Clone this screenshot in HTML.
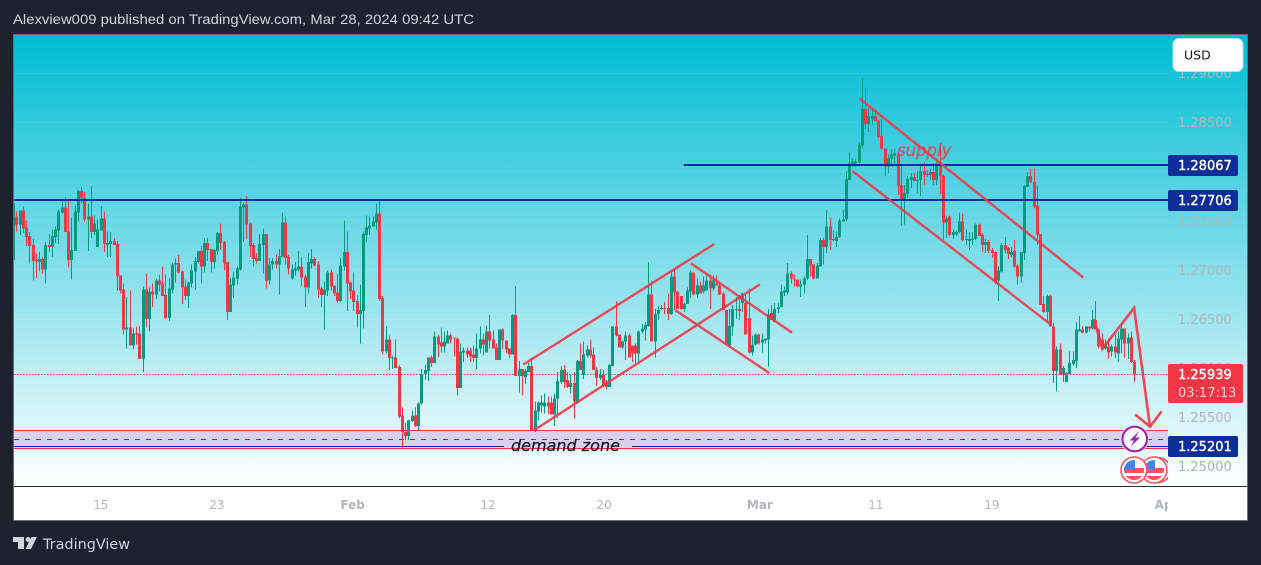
<!DOCTYPE html>
<html lang="en"><head><meta charset="utf-8"><title>GBPUSD chart</title>
<style>
html,body{margin:0;padding:0;background:#1e222d;width:1261px;height:565px;overflow:hidden}
svg{position:absolute;left:0;top:0;display:block}
text{white-space:pre}
.tick{font:13px "DejaVu Sans",sans-serif;fill:#b2b5be}
.time{font:12px "DejaVu Sans",sans-serif;fill:#b2b5be}
.pill{font:13px "DejaVu Sans",sans-serif;fill:#fff;stroke:#fff;stroke-width:.4}
</style></head>
<body>
<svg id="s" width="1261" height="565" viewBox="0 0 1261 565" xmlns="http://www.w3.org/2000/svg">
<defs>
<linearGradient id="bg" x1="0" y1="0" x2="0" y2="1"><stop offset="0" stop-color="#00bcd4"/><stop offset="1" stop-color="#ffffff"/></linearGradient>
<clipPath id="plotClip"><rect x="14" y="35" width="1154" height="451"/></clipPath>
<clipPath id="timeClip"><rect x="14" y="487" width="1154" height="33"/></clipPath>
<clipPath id="flagA"><circle cx="1134" cy="470" r="10"/></clipPath>
<clipPath id="flagB"><circle cx="1154" cy="470" r="10"/></clipPath>
<clipPath id="flagClip"><rect x="1110" y="450" width="58" height="36"/></clipPath>
</defs>
<text x="13" y="24" font-family="Liberation Sans, sans-serif" font-size="14" fill="#d1d4dc" textLength="461" lengthAdjust="spacingAndGlyphs">Alexview009 published on TradingView.com, Mar 28, 2024 09:42 UTC</text>
<rect x="13.5" y="34.5" width="1234" height="486" fill="#fff" stroke="#6a6d78"/>
<rect x="14" y="35" width="1233" height="451" fill="url(#bg)"/>
<line x1="14" x2="1247" y1="486.5" y2="486.5" stroke="#2a2e39"/>
<g id="grid"></g>
<g id="ticks"></g>
<g id="zone" clip-path="url(#plotClip)"></g>
<g id="candles" clip-path="url(#plotClip)"></g>
<g id="levels" clip-path="url(#plotClip)"></g>
<g id="trends" clip-path="url(#plotClip)"></g>
<text x="897" y="156" font-family="DejaVu Sans, sans-serif" font-style="italic" font-size="16.5" fill="#f23645" fill-opacity=".85" stroke="#f23645" stroke-opacity=".4" stroke-width=".4">supply</text>
<text x="511" y="451" font-family="DejaVu Sans, sans-serif" font-style="italic" font-size="16" fill="#131722" stroke="#131722" stroke-width=".25">demand zone</text>
<g id="pills"></g>
<rect x="1173" y="38.5" width="70" height="33" rx="6" fill="#fff" stroke="#b8e6ee"/>
<text x="1184" y="59.5" font-family="DejaVu Sans, sans-serif" font-size="12.5" fill="#131722">USD</text>
<g>
<circle cx="1134.7" cy="439" r="14" fill="#fff"/><circle cx="1134.7" cy="439" r="12.3" fill="#fff" stroke="#9c27b0" stroke-width="2.2"/>
<polygon points="1139.5,431 1129.5,440.5 1134,440.5 1130.5,447 1140,437.5 1135.5,437.5" fill="#9c27b0"/>
</g>
<g clip-path="url(#flagClip)">
<circle cx="1158" cy="470" r="12.5" fill="#fff" stroke="#f7525f" stroke-width="1.6"/>
<g>
<circle cx="1154" cy="470" r="13" fill="#fff" stroke="#f7525f" stroke-width="1.6"/>
<g clip-path="url(#flagB)"><rect x="1144" y="460" width="20" height="20" fill="#fff"/><rect x="1144" y="468" width="20" height="5" fill="#f7525f"/><rect x="1144" y="476" width="20" height="4" fill="#f7525f"/><rect x="1144" y="460" width="11" height="10" fill="#3d8be0"/></g>
</g>
<g>
<circle cx="1134" cy="470" r="13" fill="#fff" stroke="#f7525f" stroke-width="1.6"/>
<g clip-path="url(#flagA)"><rect x="1124" y="460" width="20" height="20" fill="#fff"/><rect x="1124" y="468" width="20" height="5" fill="#f7525f"/><rect x="1124" y="476" width="20" height="4" fill="#f7525f"/><rect x="1124" y="460" width="11" height="10" fill="#3d8be0"/></g>
</g>
</g>
<g id="timeAxis" clip-path="url(#timeClip)"></g>
<g fill="#d1d4dc">
<polygon points="13,537 24,537 24,549 18,549 18,542 13,542"/><circle cx="28" cy="539.5" r="2.5"/><polygon points="31.5,537 37,537 31,549 25.5,549"/>
</g>
<text x="43" y="549" font-family="DejaVu Sans, sans-serif" font-size="14.5" fill="#d1d4dc" textLength="87" lengthAdjust="spacingAndGlyphs">TradingView</text>
</svg>
<script>
// Prices in pips (1/10000 USD), one entry per 4H bar.
const opens=[12711,12755,12747,12761,12744,12735,12726,12711,12709,12712,12701,12726,12724,12734,12741,12759,12764,12740,12711,12720,12759,12781,12774,12752,12755,12739,12724,12741,12753,12726,12727,12730,12727,12695,12681,12640,12642,12624,12636,12636,12610,12681,12651,12679,12676,12690,12687,12675,12652,12681,12706,12708,12699,12684,12674,12687,12699,12709,12720,12704,12728,12722,12709,12720,12738,12729,12709,12658,12685,12692,12701,12764,12767,12748,12726,12713,12710,12726,12737,12690,12706,12710,12706,12714,12749,12714,12692,12700,12701,12704,12694,12683,12707,12712,12706,12682,12675,12680,12698,12685,12678,12669,12704,12719,12688,12680,12669,12656,12659,12736,12743,12745,12749,12758,12672,12618,12630,12611,12612,12602,12553,12536,12532,12547,12553,12542,12565,12595,12598,12612,12606,12633,12627,12623,12626,12634,12632,12631,12581,12617,12619,12619,12615,12611,12621,12630,12617,12638,12630,12622,12609,12640,12629,12621,12615,12655,12593,12600,12592,12597,12603,12538,12557,12563,12562,12566,12566,12554,12570,12587,12599,12589,12582,12586,12566,12608,12594,12614,12620,12615,12599,12591,12594,12586,12582,12603,12643,12635,12622,12628,12634,12624,12624,12616,12638,12640,12644,12676,12628,12656,12661,12662,12662,12656,12694,12679,12674,12661,12666,12679,12698,12676,12685,12679,12680,12690,12682,12687,12685,12677,12660,12624,12643,12660,12661,12667,12667,12652,12617,12625,12635,12627,12629,12630,12657,12648,12661,12663,12678,12678,12697,12692,12691,12684,12686,12692,12712,12706,12692,12704,12731,12724,12745,12732,12730,12734,12750,12752,12792,12809,12809,12810,12827,12864,12849,12854,12857,12852,12837,12824,12806,12814,12817,12819,12787,12773,12778,12792,12795,12791,12792,12801,12798,12797,12800,12792,12809,12796,12749,12755,12736,12737,12739,12750,12731,12730,12732,12732,12747,12736,12726,12729,12721,12719,12690,12699,12726,12723,12716,12720,12705,12694,12718,12785,12796,12790,12766,12737,12666,12658,12674,12643,12598,12620,12595,12587,12595,12605,12608,12638,12640,12637,12643,12641,12650,12640,12630,12621,12623,12618,12623,12616,12630,12641,12626,12632,12607];
const highs=[12768,12760,12761,12765,12751,12739,12732,12718,12719,12714,12729,12737,12742,12745,12762,12772,12775,12772,12754,12766,12782,12785,12780,12768,12786,12756,12752,12765,12760,12740,12739,12733,12730,12695,12687,12673,12680,12641,12643,12644,12684,12697,12683,12687,12692,12696,12704,12696,12692,12709,12713,12716,12700,12691,12689,12706,12714,12720,12725,12733,12733,12722,12722,12739,12748,12730,12709,12692,12699,12704,12774,12769,12776,12749,12728,12718,12737,12743,12737,12713,12713,12717,12722,12759,12755,12716,12706,12709,12720,12714,12696,12718,12722,12714,12710,12684,12689,12700,12701,12685,12697,12713,12751,12740,12689,12698,12675,12686,12740,12756,12755,12755,12768,12773,12674,12644,12634,12614,12630,12604,12561,12545,12549,12558,12561,12566,12600,12604,12612,12614,12638,12635,12642,12638,12639,12636,12632,12632,12626,12622,12622,12622,12624,12636,12643,12636,12644,12655,12639,12626,12640,12641,12629,12621,12656,12684,12608,12600,12600,12607,12612,12567,12567,12573,12575,12572,12572,12575,12597,12603,12604,12597,12595,12597,12609,12626,12628,12624,12630,12622,12602,12600,12599,12589,12605,12643,12669,12635,12629,12638,12636,12624,12626,12639,12646,12648,12709,12690,12661,12664,12665,12668,12677,12700,12701,12679,12674,12667,12683,12700,12698,12692,12689,12694,12697,12696,12695,12695,12688,12678,12660,12661,12665,12673,12675,12678,12676,12682,12634,12636,12636,12636,12631,12661,12665,12667,12667,12686,12684,12708,12699,12696,12691,12691,12694,12736,12712,12706,12708,12733,12733,12762,12754,12741,12740,12753,12762,12801,12820,12814,12813,12830,12895,12886,12865,12863,12862,12853,12854,12824,12818,12823,12824,12821,12808,12787,12796,12799,12799,12801,12809,12810,12802,12804,12809,12814,12828,12797,12755,12756,12742,12741,12759,12758,12742,12739,12739,12748,12748,12738,12732,12731,12723,12719,12704,12728,12734,12724,12724,12731,12706,12719,12787,12800,12804,12804,12786,12737,12674,12676,12675,12647,12623,12626,12603,12597,12618,12618,12648,12654,12643,12644,12643,12660,12669,12641,12636,12630,12631,12625,12635,12638,12643,12641,12636,12638,12609];
const lows=[12709,12740,12736,12738,12725,12707,12690,12692,12699,12697,12687,12719,12714,12728,12727,12758,12739,12703,12691,12720,12750,12768,12750,12720,12733,12736,12724,12741,12719,12714,12714,12726,12680,12677,12635,12621,12624,12620,12625,12610,12597,12642,12638,12663,12671,12679,12674,12651,12649,12677,12688,12697,12666,12670,12662,12683,12681,12707,12687,12698,12710,12698,12702,12716,12721,12700,12650,12658,12672,12686,12700,12729,12732,12714,12704,12707,12710,12697,12682,12686,12701,12702,12676,12714,12706,12696,12691,12695,12699,12684,12663,12677,12702,12704,12672,12663,12640,12674,12680,12674,12667,12668,12700,12659,12671,12659,12642,12626,12641,12729,12736,12745,12742,12669,12615,12616,12599,12600,12601,12550,12519,12528,12528,12546,12541,12538,12564,12589,12588,12602,12606,12612,12617,12617,12626,12626,12613,12573,12581,12607,12611,12607,12607,12600,12616,12614,12617,12621,12621,12609,12609,12620,12616,12611,12615,12593,12576,12573,12585,12597,12538,12536,12548,12556,12555,12554,12554,12542,12550,12585,12581,12581,12575,12550,12565,12599,12590,12612,12612,12599,12583,12589,12582,12579,12582,12603,12633,12622,12621,12609,12612,12607,12606,12607,12636,12629,12643,12628,12612,12650,12660,12656,12650,12655,12660,12661,12660,12658,12666,12672,12675,12672,12677,12677,12680,12661,12680,12685,12675,12660,12624,12622,12634,12651,12650,12658,12635,12616,12614,12624,12625,12617,12626,12602,12650,12648,12657,12663,12674,12675,12687,12684,12683,12673,12677,12691,12694,12691,12692,12704,12706,12718,12721,12730,12724,12733,12750,12750,12792,12806,12806,12809,12824,12844,12841,12848,12852,12834,12823,12796,12799,12806,12807,12777,12746,12747,12774,12784,12791,12779,12776,12787,12795,12792,12787,12787,12778,12731,12733,12735,12732,12735,12738,12730,12726,12721,12726,12731,12735,12719,12718,12718,12713,12686,12669,12698,12718,12712,12714,12703,12686,12688,12711,12785,12789,12763,12726,12665,12657,12648,12643,12586,12577,12594,12587,12587,12595,12603,12601,12638,12636,12636,12638,12640,12640,12621,12620,12620,12610,12613,12611,12607,12616,12611,12610,12606,12587];
const closes=[12768,12747,12761,12743,12734,12725,12710,12710,12712,12701,12726,12724,12735,12742,12760,12764,12739,12711,12721,12760,12781,12774,12752,12755,12739,12748,12742,12753,12727,12728,12730,12726,12694,12680,12640,12642,12624,12636,12635,12610,12681,12651,12679,12676,12690,12686,12674,12652,12682,12706,12708,12698,12683,12674,12688,12700,12710,12720,12704,12728,12721,12709,12721,12738,12728,12707,12658,12686,12693,12702,12765,12767,12747,12725,12712,12710,12727,12737,12690,12706,12710,12706,12715,12749,12713,12702,12701,12702,12704,12693,12683,12709,12712,12705,12681,12675,12681,12698,12684,12677,12669,12705,12719,12687,12679,12668,12656,12660,12737,12744,12746,12750,12758,12671,12618,12630,12611,12612,12601,12552,12536,12532,12548,12553,12542,12565,12595,12599,12612,12606,12633,12625,12623,12628,12634,12630,12631,12581,12618,12619,12615,12613,12611,12621,12630,12625,12638,12629,12621,12609,12640,12629,12620,12615,12655,12593,12600,12593,12598,12603,12538,12558,12566,12566,12566,12562,12554,12570,12588,12599,12587,12582,12586,12567,12608,12599,12615,12620,12614,12599,12591,12594,12583,12582,12604,12643,12634,12622,12628,12634,12612,12616,12616,12638,12641,12645,12676,12628,12656,12660,12662,12661,12656,12694,12678,12661,12661,12666,12680,12698,12676,12685,12677,12685,12690,12682,12690,12685,12676,12660,12624,12644,12661,12661,12659,12677,12635,12617,12625,12635,12626,12630,12631,12656,12650,12661,12663,12679,12680,12697,12692,12691,12684,12686,12692,12712,12705,12692,12705,12731,12724,12745,12731,12731,12734,12751,12752,12793,12809,12811,12811,12828,12864,12849,12857,12857,12852,12836,12824,12806,12814,12818,12819,12786,12772,12779,12793,12795,12791,12792,12801,12797,12797,12800,12792,12809,12796,12749,12753,12736,12739,12739,12750,12731,12732,12732,12732,12747,12735,12726,12729,12720,12718,12688,12700,12726,12721,12717,12719,12704,12694,12719,12786,12796,12790,12765,12736,12665,12658,12674,12643,12598,12620,12595,12601,12596,12606,12609,12640,12640,12637,12643,12641,12650,12640,12623,12621,12626,12617,12623,12617,12631,12641,12626,12632,12607,12595];
const priceTicks=[12900,12850,12800,12750,12700,12650,12600,12550,12500];
const priceTickLabels=["1.29000","1.28500","1.28000","1.27500","1.27000","1.26500","1.26000","1.25500","1.25000"];
const timeLabels=["15","23","Feb","12","20","Mar","11","19","Apr"];
const timeBars=[27.1,62.9,104.8,146.6,182.4,230.5,266.3,302.1,356];
const timeBold=[0,0,1,0,0,1,0,0,1];
const levelPrices=[12806.7,12770.6];
const levelStartBars=[207,0];
const levelLabels=["1.28067","1.27706"];
const zoneTop=12537, zoneBottom=12519, zoneMid=12528, zoneLevel=12521;
const zoneLabel="1.25201";
const lastPrice=12594, lastPriceLabel="1.25939", countdownLabel="03:17:13";
const trendStartBars=[157.5,160.6,209.2,204.3,261.2,259.1];
const trendStartPrices=[12604.6,12537.5,12707.5,12660,12875,12801];
const trendEndBars=[216.4,230.5,240.4,233.4,330.3,320];
const trendEndPrices=[12727,12686,12637,12596,12693,12646];
const arrowBars=[333.6,336.2,346,350.9];
const arrowPrices=[12651,12620.5,12662,12541.5];
const headBars=[346.3,350.9,354.5];
const headPrices=[12554,12541.5,12557];

const NS="http://www.w3.org/2000/svg";
const xScale=k=>13.06+3.24*k;
const yScale=p=>122.5+(12850.5-p)*0.9843;
const snapRow=p=>Math.floor(yScale(p)-0.7)+.5;
const snapLine=p=>Math.round(yScale(p)-0.7);
function mk(parent,tag,attrs){const el=document.createElementNS(NS,tag);for(const a in attrs)el.setAttribute(a,attrs[a]);document.getElementById(parent).appendChild(el);return el;}

priceTicks.forEach((p,i)=>{
  const g=mk('grid','line',{x1:14,x2:1168,y1:snapRow(p),y2:snapRow(p),stroke:'#fff','stroke-opacity':.08});
  
  
  const t=mk('ticks','text',{x:1178,y:Math.round(yScale(p))+4,class:'tick'});
  t.textContent=priceTickLabels[i];
  
  
});

timeLabels.forEach((l,i)=>{
  const t=mk('timeAxis','text',{x:xScale(timeBars[i]),y:509,class:'time','text-anchor':'middle'});
  t.style.fontWeight=timeBold[i]?'bold':'normal';
  t.textContent=l;
  
  
});

const zf=mk('zone','rect',{x:14,width:1154,y:snapRow(zoneTop),height:snapRow(zoneBottom)-snapRow(zoneTop),fill:'#d9d0ee'});


[zoneTop,zoneBottom].forEach(p=>{
  const l=mk('zone','line',{x1:14,x2:1168,y1:snapRow(p),y2:snapRow(p),stroke:'#f23645','stroke-width':1});
  
  
});
const zd=mk('zone','line',{x1:14,x2:1168,y1:snapRow(zoneMid),y2:snapRow(zoneMid),stroke:'#7b1fa2','stroke-width':1,'stroke-dasharray':'5 6'});


[[14,xScale(151.5)],[xScale(191),1168]].forEach(r=>{
  const l=mk('zone','line',{x1:r[0],x2:r[1],y1:snapRow(zoneLevel),y2:snapRow(zoneLevel),stroke:'#0d2d9a','stroke-width':1});
  
  
});
const dl=mk('zone','line',{x1:14,x2:1168,y1:snapRow(lastPrice),y2:snapRow(lastPrice),stroke:'#f23645','stroke-width':1,'stroke-dasharray':'1.5 1.5'});



opens.forEach((o,k)=>{
  const c=closes[k],col=c>=o?'#089981':'#f23645',cx=Math.round(xScale(k));
  const wick=mk('candles','rect',{x:cx,width:1,y:yScale(highs[k]),height:Math.max(1,yScale(lows[k])-yScale(highs[k])),fill:col,'shape-rendering':'crispEdges'});
  
  
  const top=Math.max(o,c),bot=Math.min(o,c);
  const body=mk('candles','rect',{x:cx-1,width:3,y:yScale(top),height:Math.max(1,yScale(bot)-yScale(top)),fill:col,'shape-rendering':'crispEdges'});
  
  
});

levelPrices.forEach((p,i)=>{
  const l=mk('levels','line',{x1:xScale(levelStartBars[i]),x2:1168,y1:snapLine(p),y2:snapLine(p),stroke:'#0d2d9a','stroke-width':2});
  
  
});

trendStartBars.forEach((b,i)=>{
  const l=mk('trends','line',{x1:xScale(b),y1:yScale(trendStartPrices[i]),x2:xScale(trendEndBars[i]),y2:yScale(trendEndPrices[i]),stroke:'#f23645','stroke-opacity':.9,'stroke-width':2.4});
  
  
});
const arrow=mk('trends','polyline',{points:arrowBars.map((b,i)=>xScale(b)+','+yScale(arrowPrices[i])).join(' '),fill:'none',stroke:'#f23645','stroke-opacity':.92,'stroke-width':2.6});


const head=mk('trends','polyline',{points:headBars.map((b,i)=>xScale(b)+','+yScale(headPrices[i])).join(' '),fill:'none',stroke:'#f23645','stroke-opacity':.92,'stroke-width':2.6});



function pill(yc,label,fill){
  const r=mk('pills','rect',{x:1168,y:yc-10,width:70,height:21,rx:2,fill:fill});
  
  
  const t=mk('pills','text',{x:1178,y:yc+5,class:'pill'});
  t.textContent=label;
  
  
}
levelPrices.forEach((p,i)=>pill(snapLine(p),levelLabels[i],'#0d2d9a'));
pill(Math.floor(snapRow(zoneLevel)),zoneLabel,'#0d2d9a');
const ly=Math.floor(snapRow(lastPrice));
const lp=mk('pills','rect',{x:1168,y:ly-10,width:75,height:39,rx:2,fill:'#f23645'});


const lt=mk('pills','text',{x:1178,y:ly+5,class:'pill'});
lt.textContent=lastPriceLabel;


const ct=mk('pills','text',{x:1178,y:ly+23,class:'tick'});
ct.style.fill='#ffd0d4';
ct.textContent=countdownLabel;


</script>
</body></html>
